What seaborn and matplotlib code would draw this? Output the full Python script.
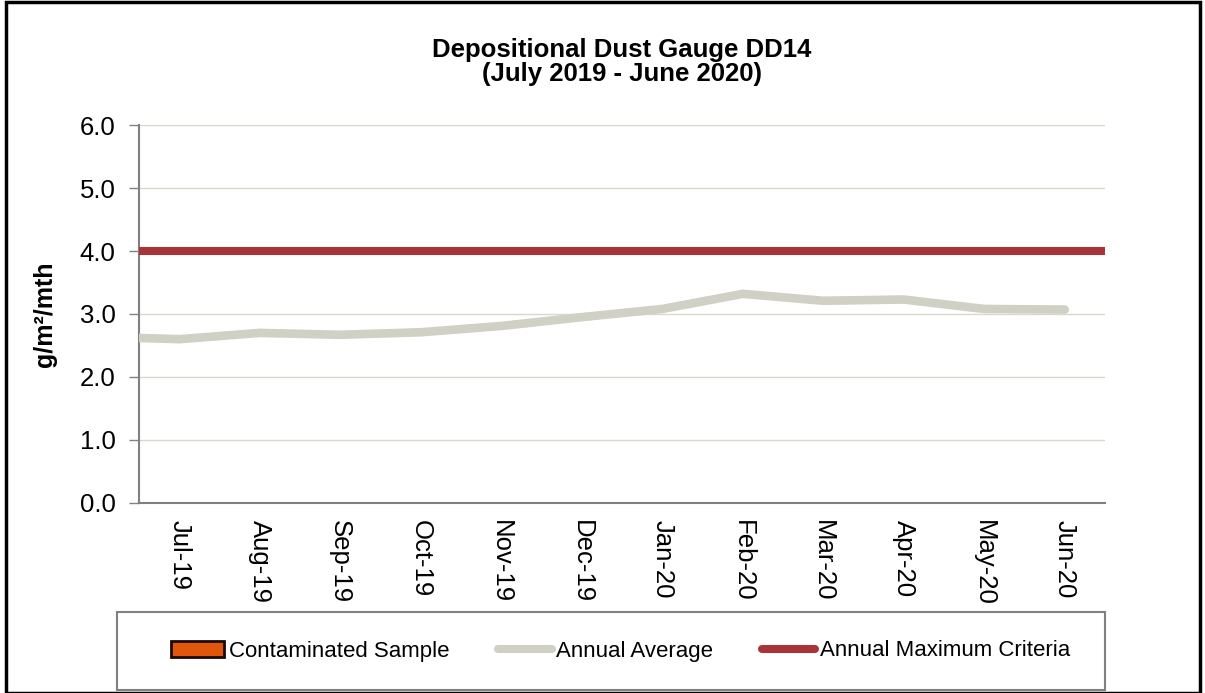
import matplotlib
matplotlib.use('Agg')
import matplotlib.pyplot as plt
import seaborn as sns
import numpy as np
import pandas as pd
from matplotlib.lines import Line2D
from matplotlib.patches import Patch, Rectangle

# data
months = ['Jul-19', 'Aug-19', 'Sep-19', 'Oct-19', 'Nov-19', 'Dec-19',
          'Jan-20', 'Feb-20', 'Mar-20', 'Apr-20', 'May-20', 'Jun-20']
annual_avg = [2.60, 2.70, 2.67, 2.71, 2.81, 2.95, 3.08, 3.32, 3.21, 3.23, 3.08, 3.07]
avg_before_start = 2.62   # running average carried in from the left edge
max_criteria = 4.0
y_ticks = [0.0, 1.0, 2.0, 3.0, 4.0, 5.0, 6.0]

sns.set_style('white')
plt.rcParams['font.family'] = ['Liberation Sans', 'DejaVu Sans']
plt.rcParams['text.color'] = 'black'
plt.rcParams['axes.labelcolor'] = 'black'
plt.rcParams['xtick.labelcolor'] = 'black'
plt.rcParams['ytick.labelcolor'] = 'black'

AVG_COLOR = '#D0D0C4'
CRIT_COLOR = '#A83438'
AXIS_COLOR = '#808080'
GRID_COLOR = '#D8D8CC'

fig = plt.figure(figsize=(12.05, 6.93), dpi=100)
ax = fig.add_axes([0.1154, 0.2742, 0.8016, 0.5454])

n = len(months)
ax.set_xlim(-0.5, n - 0.5)
ax.set_ylim(0, 6)

df = pd.DataFrame({'x': [ax.get_xlim()[0]] + list(range(n)),
                   'avg': [avg_before_start] + annual_avg})

ax.axhline(max_criteria, color=CRIT_COLOR, lw=5.8, zorder=3)
sns.lineplot(data=df, x='x', y='avg', ax=ax, color=AVG_COLOR, lw=6.2,
             sort=False, solid_capstyle='round', zorder=4)

# axes styling
ax.set_yticks(y_ticks)
ax.set_yticklabels([f'{v:.1f}' for v in y_ticks], fontsize=18.5)
ax.yaxis.grid(True, color=GRID_COLOR, lw=1)
ax.set_axisbelow(True)

ax.set_xticks(np.arange(n))
ax.set_xticklabels(months, rotation=-90, fontsize=18.5)
ax.set_xticks(np.arange(n + 1) - 0.5, minor=True)
ax.tick_params(axis='x', which='major', length=0, pad=12)
ax.tick_params(axis='x', which='minor', length=7, width=1, color=AXIS_COLOR, direction='out')
ax.tick_params(axis='y', length=7, width=1, color=AXIS_COLOR, direction='out', left=True, pad=10)

for s in ['top', 'right']:
    ax.spines[s].set_visible(False)
for s in ['left', 'bottom']:
    ax.spines[s].set_color(AXIS_COLOR)
    ax.spines[s].set_linewidth(1.5)

ax.set_xlabel('')
ax.set_ylabel('g/m²/mth', fontsize=18, fontweight='bold', labelpad=16)

ax.set_title('Depositional Dust Gauge DD14\n(July 2019 - June 2020)',
             fontsize=18.5, fontweight='bold', pad=32, linespacing=1.0)

handles = [
    Patch(facecolor='#E0560A', edgecolor='#1A0A00', lw=2),
    Line2D([0], [0], color=AVG_COLOR, lw=5.8, solid_capstyle='round'),
    Line2D([0], [0], color=CRIT_COLOR, lw=5.8, solid_capstyle='round'),
]
labels = ['Contaminated Sample', 'Annual Average', 'Annual Maximum Criteria']
leg = fig.legend(handles, labels, loc='center left', ncol=3, fontsize=16,
                 bbox_to_anchor=(171 / 1205, 1 - 651 / 693), frameon=False,
                 handlelength=2.4, handletextpad=0.2, columnspacing=2.2,
                 borderpad=0, borderaxespad=0)

# legend box and outer chart border
fig.patches.append(Rectangle((117 / 1205, 1 - 690 / 693), 988 / 1205, 78 / 693,
                             transform=fig.transFigure, fill=False,
                             edgecolor=AXIS_COLOR, lw=1.5))
fig.patches.append(Rectangle((0.005, 0.0), 0.991, 0.997, transform=fig.transFigure,
                             fill=False, edgecolor='black', lw=2.5))

plt.savefig('out.png', dpi=100)
plt.close()
